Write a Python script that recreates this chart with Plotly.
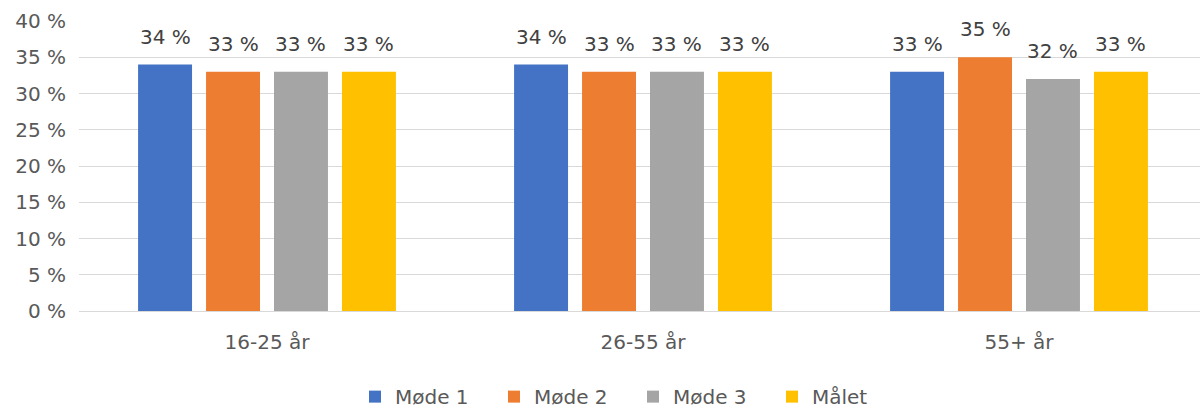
import plotly.graph_objects as go

categories = ["16-25 år", "26-55 år", "55+ år"]
series_names = ["Møde 1", "Møde 2", "Møde 3", "Målet"]
mode1 = [34, 34, 33]
mode2 = [33, 33, 35]
mode3 = [33, 33, 32]
maalet = [33, 33, 33]
y_ticks = [0, 5, 10, 15, 20, 25, 30, 35, 40]

series_values = [mode1, mode2, mode3, maalet]
colors = ["#4472C4", "#ED7D31", "#A5A5A5", "#FFC000"]

W, H = 1200, 410
ML, MR, MT, MB = 79, 0, 21, 99
CAT_PX = 376.0
plot_w = W - ML - MR
x_len = plot_w / CAT_PX
BARGAP = 0.277
BARGROUPGAP = 0.206
slot_px = (1 - BARGAP) * CAT_PX / len(series_names)

font_family = "DejaVu Sans, Verdana, sans-serif"
fig = go.Figure()
for name, vals, col in zip(series_names, series_values, colors):
    fig.add_trace(go.Bar(x=categories, y=vals, name=name, marker=dict(color=col, line=dict(width=0))))

for j, vals in enumerate(series_values):
    for cat, v in zip(categories, vals):
        fig.add_annotation(x=cat, y=v, text=f"{v} %", showarrow=False,
                           xshift=(j - 1.5) * slot_px, yshift=28, yanchor="middle",
                           font=dict(size=20, color="#404040", family=font_family))

fig.update_layout(
    width=W, height=H,
    margin=dict(l=ML, r=MR, t=MT, b=MB, pad=0, autoexpand=False),
    paper_bgcolor="white", plot_bgcolor="white",
    barmode="group", bargap=BARGAP, bargroupgap=BARGROUPGAP,
    font=dict(family=font_family, size=20, color="#595959"),
    showlegend=True,
    legend=dict(orientation="h", x=(633 - ML) / plot_w, xanchor="center", y=-0.228, yanchor="top",
                yref="paper", font=dict(size=20, color="#595959"),
                entrywidth=94, entrywidthmode="pixels", traceorder="normal"),
    xaxis=dict(range=[-0.5, -0.5 + x_len], showgrid=False, showline=False, ticks="",
               tickfont=dict(size=20, color="#595959")),
    yaxis=dict(range=[0, 40], tickvals=y_ticks, ticktext=[f"{t} %" for t in y_ticks],
               showgrid=True, gridcolor="#D9D9D9", gridwidth=1.3, zeroline=True,
               zerolinecolor="#D9D9D9", zerolinewidth=1.3, showline=False, ticks="",
               ticklen=0, tickfont=dict(size=20, color="#595959")),
)
fig.update_yaxes(ticklabelstandoff=12)
fig.update_xaxes(ticklabelstandoff=17)

fig.write_html("out.html")
